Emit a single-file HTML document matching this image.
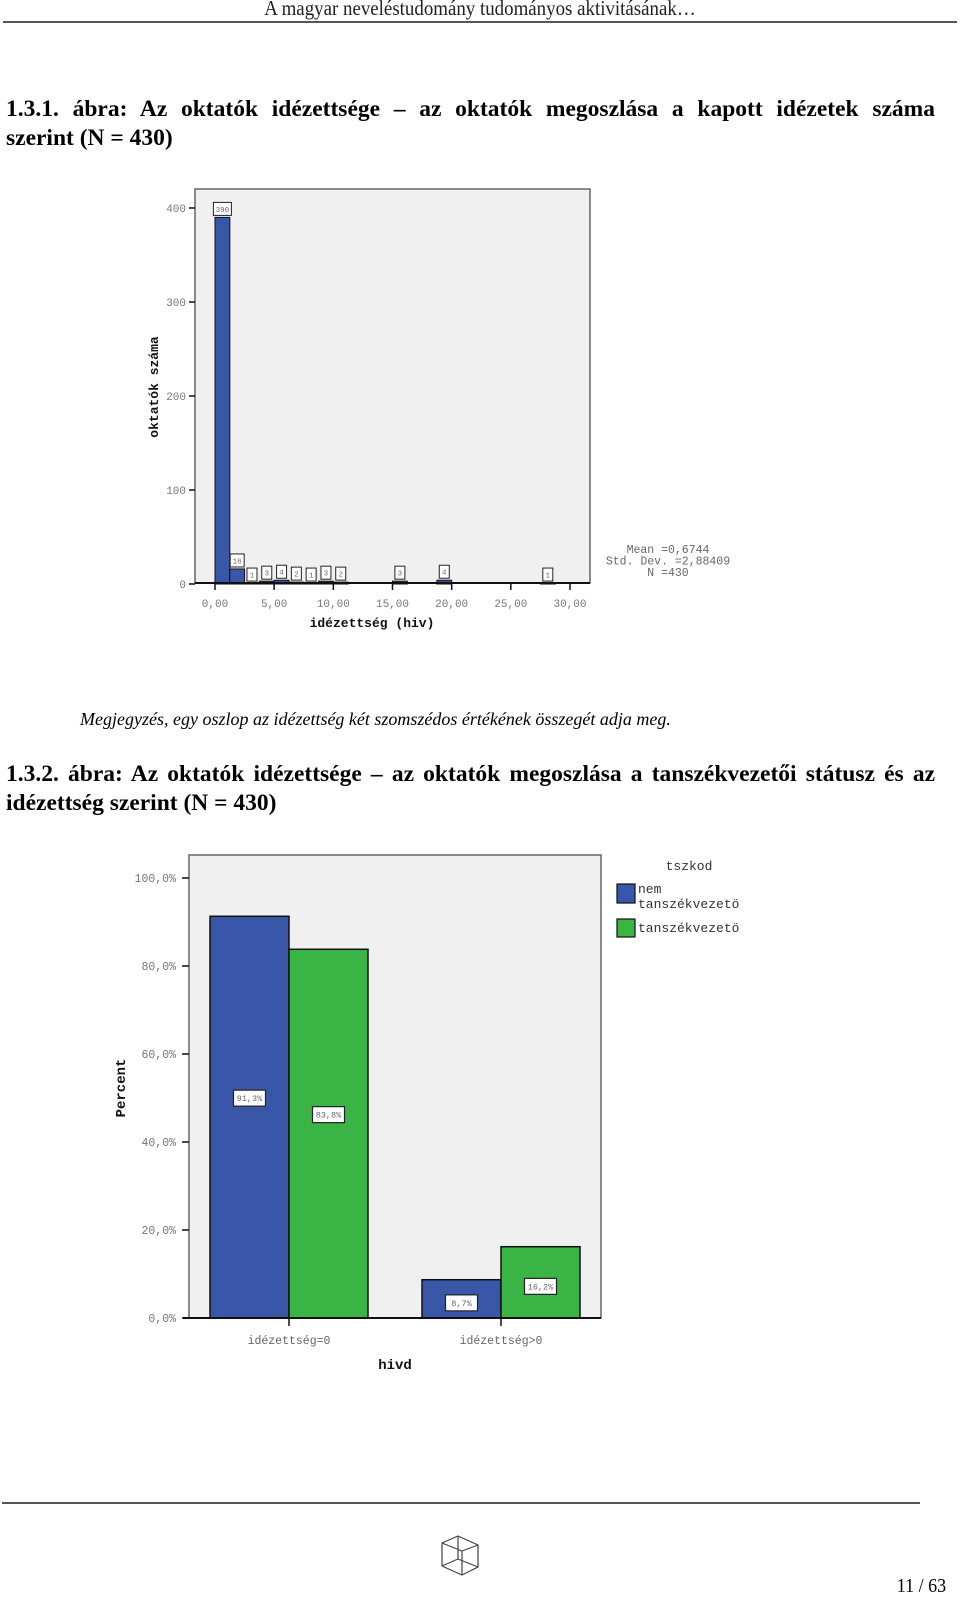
<!DOCTYPE html>
<html><head><meta charset="utf-8">
<style>
html,body{margin:0;padding:0;background:#fff;}
body{width:960px;height:1599px;position:relative;overflow:hidden;font-family:"Liberation Serif",serif;}
.abs{position:absolute;}
.title{left:6px;width:929px;font-weight:bold;font-size:23.5px;line-height:29px;text-align:justify;text-align-last:justify;white-space:nowrap;}
svg text{font-family:"Liberation Mono",monospace;}
</style></head>
<body>
<div class="abs" style="left:0;top:-4px;width:960px;text-align:center;font-size:21px;color:#222;transform:scaleX(0.9);">A magyar neveléstudomány tudományos aktivitásának…</div>
<div class="abs" style="left:3px;top:21px;width:954px;height:2px;background:#555;"></div>

<div class="abs title" style="top:95px;">1.3.1. ábra: Az oktatók idézettsége – az oktatók megoszlása a kapott idézetek száma</div>
<div class="abs" style="left:6px;top:124px;font-weight:bold;font-size:23.5px;line-height:29px;">szerint (N = 430)</div>

<svg class="abs" style="left:0;top:0" width="960" height="1599">
<g id="hist"></g>
<g id="bars"></g>
</svg>

<div class="abs" style="left:80px;top:709px;font-style:italic;font-size:18px;">Megjegyzés, egy oszlop az idézettség két szomszédos értékének összegét adja meg.</div>

<div class="abs title" style="top:760px;">1.3.2. ábra: Az oktatók idézettsége – az oktatók megoszlása a tanszékvezetői státusz és az</div>
<div class="abs" style="left:6px;top:789px;font-weight:bold;font-size:23.5px;line-height:29px;">idézettség szerint (N = 430)</div>

<div class="abs" style="left:2px;top:1502px;width:918px;height:2px;background:#555;"></div>
<svg class="abs" style="left:438px;top:1533px" width="46" height="46">
<g fill="none" stroke="#444" stroke-width="1.2">
<polygon points="4,10 20,3 40,12 40,34 24,42 4,33"/>
<line x1="4" y1="10" x2="24" y2="18"/><line x1="24" y1="18" x2="40" y2="12"/><line x1="24" y1="18" x2="24" y2="42"/>
<line x1="4" y1="33" x2="20" y2="26"/><line x1="20" y1="26" x2="40" y2="34"/><line x1="20" y1="3" x2="20" y2="26"/>
</g></svg>
<div class="abs" style="left:894px;top:1575px;font-size:20px;transform:scaleX(0.9);">11 / 63</div>

<script>
const histCounts=[390,16,1,3,4,2,1,3,2,0,0,0,3,0,0,4,0,0,0,0,0,0,1,0];
const histBinWidth=1.25;
const histXTicks=[0,5,10,15,20,25,30];
const histYTicks=[0,100,200,300,400];
const histStats=["Mean =0,6744","Std. Dev. =2,88409","N =430"];

const barCategories=["idézettség=0","idézettség>0"];
const barSeriesNames=["nem tanszékvezetö","tanszékvezetö"];
const barNem=[91.3,8.7];
const barTsz=[83.8,16.2];
const barLabels=[["91,3%","8,7%"],["83,8%","16,2%"]];
const barYTicks=[0,20,40,60,80,100];
const barYTickLabels=["0,0%","20,0%","40,0%","60,0%","80,0%","100,0%"];

const NS="http://www.w3.org/2000/svg";
function mk(parent,tag,attrs,text){const e=document.createElementNS(NS,tag);for(const k in attrs)e.setAttribute(k,attrs[k]);if(text!==undefined)e.textContent=text;parent.appendChild(e);return e;}

// Histogram
(function(){
const g=document.getElementById('hist');
const fx=(v)=>215+v*(570-215)/30;
const fy=(v)=>584-v*0.94;
let e=mk(g,'rect',{x:195,y:189,width:395,height:394,fill:'#f0f0f0',stroke:'#666','stroke-width':1.5});

histCounts.forEach((c,i)=>{
  const x0=fx(i*histBinWidth),x1=fx((i+1)*histBinWidth);
  if(c>0){
    const b=mk(g,'rect',{x:x0,y:fy(c),width:x1-x0,height:fy(0)-fy(c),fill:'#3a56a8',stroke:'#111','stroke-width':1});
    
    
    const w=c>=100?18:(c>=10?14:10);
    const cx=(x0+x1)/2, by=fy(c)-2;
    const lb=mk(g,'rect',{x:cx-w/2,y:by-13,width:w,height:13,fill:'#fff',stroke:'#222','stroke-width':1});
    
    
    const t=mk(g,'text',{x:cx,y:by-3.5,'font-size':7.5,'text-anchor':'middle',fill:'#666'},String(c));
    
    
  }
});
mk(g,'line',{x1:195,y1:583,x2:590,y2:583,stroke:'#111','stroke-width':2});
histYTicks.forEach(v=>{
  mk(g,'line',{x1:189,y1:fy(v),x2:195,y2:fy(v),stroke:'#111','stroke-width':1.5});
  const t=mk(g,'text',{x:186,y:fy(v)+4,'font-size':11,'text-anchor':'end',fill:'#777'},String(v));
  
  
});
histXTicks.forEach(v=>{
  mk(g,'line',{x1:fx(v),y1:583,x2:fx(v),y2:590,stroke:'#111','stroke-width':1.5});
  const t=mk(g,'text',{x:fx(v),y:607,'font-size':11,'text-anchor':'middle',fill:'#777'},v.toFixed(2).replace('.',','));
  
  
});
let t=mk(g,'text',{x:372,y:627,'font-size':13,'font-weight':'bold','text-anchor':'middle',fill:'#111'},'idézettség (hiv)');

t=mk(g,'text',{x:0,y:0,'font-size':13,'font-weight':'bold','text-anchor':'middle',fill:'#111',transform:'translate(158,387) rotate(-90)'},'oktatók száma');

histStats.forEach((s,i)=>{
  const st=mk(g,'text',{x:668,y:553+i*11.5,'font-size':11.5,'text-anchor':'middle',fill:'#666'},s);
  
  
});
})();

// Grouped bar chart
(function(){
const g=document.getElementById('bars');
const fy=(v)=>1318-v*4.4;
const groupCenters=[289,501], bw=79;
let e=mk(g,'rect',{x:189,y:855,width:412,height:463,fill:'#f0f0f0',stroke:'#666','stroke-width':1.5});

const series=[barNem,barTsz], colors=['#3a56a8','#3bb446'];
barCategories.forEach((cat,ci)=>{
  series.forEach((s,si)=>{
    const x0=groupCenters[ci]+(si-1)*bw;
    const b=mk(g,'rect',{x:x0,y:fy(s[ci]),width:bw,height:fy(0)-fy(s[ci]),fill:colors[si],stroke:'#111','stroke-width':1.5});
    
    
  });
});
barCategories.forEach((cat,ci)=>{
  series.forEach((s,si)=>{
    const cx=groupCenters[ci]+(si-0.5)*bw;
    const cy=ci===0?(fy(s[ci])+fy(0))/2-19:(fy(s[ci])+fy(0))/2+4;
    const lb=mk(g,'rect',{x:cx-16,y:cy-8,width:32,height:16,fill:'#fff',stroke:'#222','stroke-width':1.2});
    
    
    const t=mk(g,'text',{x:cx,y:cy+3,'font-size':8.5,'text-anchor':'middle',fill:'#666'},barLabels[si][ci]);
    
    
  });
  mk(g,'line',{x1:groupCenters[ci],y1:1318,x2:groupCenters[ci],y2:1326,stroke:'#111','stroke-width':1.5});
  const t=mk(g,'text',{x:groupCenters[ci],y:1344,'font-size':11.5,'text-anchor':'middle',fill:'#666'},cat);
  
  
});
mk(g,'line',{x1:183,y1:1318,x2:601,y2:1318,stroke:'#111','stroke-width':2});
barYTicks.forEach((v,i)=>{
  mk(g,'line',{x1:182,y1:fy(v),x2:189,y2:fy(v),stroke:'#111','stroke-width':1.5});
  const t=mk(g,'text',{x:176,y:fy(v)+4,'font-size':11.5,'text-anchor':'end',fill:'#777'},barYTickLabels[i]);
  
  
});
let t=mk(g,'text',{x:395,y:1369,'font-size':14,'font-weight':'bold','text-anchor':'middle',fill:'#111'},'hivd');

t=mk(g,'text',{x:0,y:0,'font-size':14,'font-weight':'bold','text-anchor':'middle',fill:'#111',transform:'translate(125,1088) rotate(-90)'},'Percent');

t=mk(g,'text',{x:689,y:870,'font-size':13,'text-anchor':'middle',fill:'#333'},'tszkod');

let r=mk(g,'rect',{x:617,y:884,width:18,height:19,fill:colors[0],stroke:'#111','stroke-width':1.2});

t=mk(g,'text',{x:638,y:893,'font-size':13,fill:'#333'},'nem');

t=mk(g,'text',{x:638,y:908,'font-size':13,fill:'#333'},'tanszékvezetö');

r=mk(g,'rect',{x:617,y:919,width:18,height:18,fill:colors[1],stroke:'#111','stroke-width':1.2});

t=mk(g,'text',{x:638,y:932,'font-size':13,fill:'#333'},barSeriesNames[1]);

})();
</script>
</body></html>
